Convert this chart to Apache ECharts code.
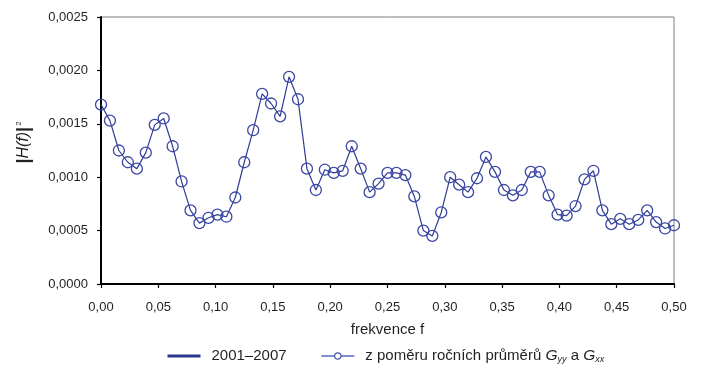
<!DOCTYPE html>
<html>
<head>
<meta charset="utf-8">
<script src="https://cdn.jsdelivr.net/npm/echarts@6/dist/echarts.min.js"></script>
<style>
  html, body { margin: 0; padding: 0; background: #ffffff; }
  #chart { width: 702px; height: 365px; }
</style>
</head>
<body>
<div id="chart"></div>
<script>
// Frequency grid (cycles per sample)
const frequencies = [
  0, 0.0078, 0.0156, 0.0234, 0.0313, 0.0391, 0.0469, 0.0547, 0.0625, 0.0703,
  0.0781, 0.0859, 0.0938, 0.1016, 0.1094, 0.1172, 0.125, 0.1328, 0.1406, 0.1484,
  0.1563, 0.1641, 0.1719, 0.1797, 0.1875, 0.1953, 0.2031, 0.2109, 0.2188, 0.2266,
  0.2344, 0.2422, 0.25, 0.2578, 0.2656, 0.2734, 0.2813, 0.2891, 0.2969, 0.3047,
  0.3125, 0.3203, 0.3281, 0.3359, 0.3438, 0.3516, 0.3594, 0.3672, 0.375, 0.3828,
  0.3906, 0.3984, 0.4063, 0.4141, 0.4219, 0.4297, 0.4375, 0.4453, 0.4531, 0.4609,
  0.4688, 0.4766, 0.4844, 0.4922, 0.5
];

// Squared gain |H(f)|^2, period 2001–2007
const gain20012007 = [
  0.00168, 0.00153, 0.00125, 0.00114, 0.00108, 0.00123, 0.00149, 0.00155, 0.00129, 0.00096,
  0.00069, 0.00057, 0.00062, 0.00065, 0.00063, 0.00081, 0.00114, 0.00144, 0.00178, 0.00169,
  0.00157, 0.00194, 0.00173, 0.00108, 0.00088, 0.00107, 0.00104, 0.00106, 0.00129, 0.00108,
  0.00086, 0.00094, 0.00104, 0.00104, 0.00102, 0.00082, 0.00050, 0.00045, 0.00067, 0.00100,
  0.00093, 0.00086, 0.00099, 0.00119, 0.00105, 0.00088, 0.00083, 0.00088, 0.00105, 0.00105,
  0.00083, 0.00065, 0.00064, 0.00073, 0.00098, 0.00106, 0.00069, 0.00056, 0.00061, 0.00056,
  0.00060, 0.00069, 0.00058, 0.00052, 0.00055
];

// Same quantity computed from the ratio of annual means of Gyy and Gxx
const gainRatio = gain20012007.slice();

const seriesNames = ['2001–2007', 'z poměru ročních průměrů'];
const yTicks = { min: 0, max: 0.0025, interval: 0.0005 };
const xTicks = { min: 0, max: 0.5, interval: 0.05 };

const pairs = (xs, ys) => xs.map((x, i) => [x, ys[i]]);
const FONT = 'Liberation Sans, Arial, sans-serif';
const TXT = '#231f20';

const chart = echarts.init(document.getElementById('chart'), null, { renderer: 'canvas' });

chart.setOption({
  animation: false,
  backgroundColor: '#ffffff',
  textStyle: { fontFamily: FONT, color: TXT },
  grid: {
    left: 101, right: 28, top: 17, bottom: 81,
    show: true, borderColor: '#7f7f7f', borderWidth: 1, backgroundColor: 'transparent'
  },
  xAxis: {
    type: 'value',
    min: xTicks.min, max: xTicks.max, interval: xTicks.interval,
    name: 'frekvence f',
    nameLocation: 'middle',
    nameGap: 38,
    nameTextStyle: { fontFamily: FONT, fontSize: 15, color: TXT },
    axisLine: { show: true, lineStyle: { color: '#000000', width: 2 } },
    axisTick: { show: true, inside: false, length: 4, lineStyle: { color: '#000000', width: 1.2 } },
    axisLabel: {
      fontFamily: FONT, fontSize: 13, color: TXT, margin: 17,
      formatter: v => v.toFixed(2).replace('.', ',')
    },
    splitLine: { show: false }
  },
  yAxis: {
    type: 'value',
    min: yTicks.min, max: yTicks.max, interval: yTicks.interval,
    name: '{b||}{i|H(f)}{b||}{s|2}',
    nameLocation: 'middle',
    nameRotate: 90,
    nameGap: 68,
    nameTextStyle: {
      fontFamily: FONT, fontSize: 16, color: TXT,
      padding: [0, 0, 0, 16],
      rich: {
        b: { fontFamily: FONT, fontSize: 18, fontWeight: 'bold', color: TXT },
        i: { fontFamily: FONT, fontSize: 16, fontStyle: 'italic', color: TXT },
        s: { fontFamily: FONT, fontSize: 8, color: TXT, verticalAlign: 'top', padding: [0, 0, 8, 1] }
      }
    },
    axisLine: { show: true, lineStyle: { color: '#000000', width: 2 } },
    axisTick: { show: true, inside: false, length: 4, lineStyle: { color: '#000000', width: 1.2 } },
    axisLabel: {
      fontFamily: FONT, fontSize: 13, color: TXT, margin: 13,
      formatter: v => v.toFixed(4).replace('.', ',')
    },
    splitLine: { show: false }
  },
  legend: {
    left: 161,
    top: 343,
    itemWidth: 33,
    itemHeight: 8,
    itemGap: 34,
    textStyle: {
      fontFamily: FONT, fontSize: 15, color: TXT,
      rich: {
        t: { fontFamily: FONT, fontSize: 15, color: TXT },
        p: { fontFamily: FONT, fontSize: 15, color: TXT, padding: [0, 0, 0, 6] },
        g: { fontFamily: FONT, fontSize: 15.5, fontStyle: 'italic', color: TXT },
        sub: { fontFamily: FONT, fontSize: 9, fontStyle: 'italic', color: TXT, verticalAlign: 'bottom', padding: [7, 0, 0, 0] }
      }
    },
    formatter: name => name === seriesNames[1]
      ? '{p|z poměru ročních průměrů }{g|G}{sub|yy}{t| a }{g|G}{sub|xx}'
      : '{p|' + name + '}',
    data: [
      {
        name: seriesNames[0],
        lineStyle: { color: '#2b3990', width: 3, opacity: 1 },
        itemStyle: { opacity: 0 }
      },
      {
        name: seriesNames[1],
        lineStyle: { color: '#5566bf', width: 1.5, opacity: 1 },
        itemStyle: { color: '#ffffff', borderColor: '#4454b0', borderWidth: 1.2 }
      }
    ]
  },
  series: [
    {
      name: seriesNames[0],
      type: 'line',
      data: pairs(frequencies, gain20012007),
      symbol: 'none',
      smooth: false,
      lineStyle: { color: '#2f3b96', width: 1.2 },
      itemStyle: { color: '#2b3990' },
      z: 2
    },
    {
      name: seriesNames[1],
      type: 'line',
      data: pairs(frequencies, gainRatio),
      symbol: 'circle',
      symbolSize: 11,
      showAllSymbol: true,
      lineStyle: { width: 0, opacity: 0, color: '#5566bf' },
      itemStyle: { color: 'rgba(255,255,255,0)', borderColor: '#3a47a3', borderWidth: 1.3 },
      emphasis: { disabled: true },
      z: 3
    }
  ]
});
</script>
</body>
</html>
